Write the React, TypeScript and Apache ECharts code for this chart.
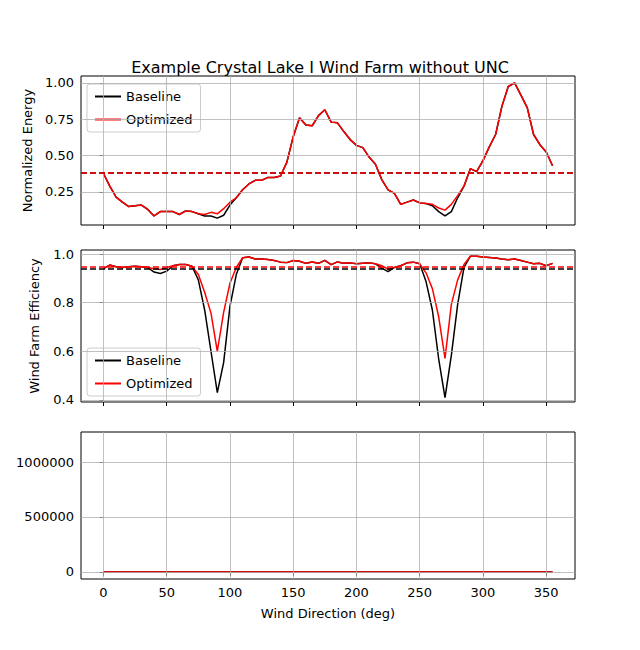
import React, { useEffect, useRef } from "react";
import * as echarts from "echarts";

const directions = [0,5,10,15,20,25,30,35,40,45,50,55,60,65,70,75,80,85,90,95,100,105,110,115,120,125,130,135,140,145,150,155,160,165,170,175,180,185,190,195,200,205,210,215,220,225,230,235,240,245,250,255,260,265,270,275,280,285,290,295,300,305,310,315,320,325,330,335,340,345,350,355];

const energyOpt = [0.377,0.29,0.215,0.18,0.15,0.155,0.16,0.13,0.085,0.115,0.115,0.115,0.095,0.12,0.115,0.1,0.095,0.11,0.1,0.135,0.18,0.21,0.265,0.305,0.33,0.33,0.35,0.35,0.36,0.455,0.63,0.76,0.71,0.705,0.775,0.815,0.73,0.725,0.665,0.61,0.57,0.555,0.49,0.44,0.335,0.265,0.24,0.165,0.18,0.195,0.175,0.17,0.165,0.14,0.125,0.165,0.225,0.29,0.41,0.39,0.465,0.56,0.645,0.84,0.975,1.0,0.915,0.83,0.645,0.575,0.525,0.43];
const energyBase = [0.377,0.29,0.215,0.18,0.15,0.155,0.16,0.13,0.085,0.115,0.115,0.115,0.095,0.12,0.115,0.1,0.085,0.085,0.07,0.09,0.16,0.21,0.265,0.305,0.33,0.33,0.35,0.35,0.36,0.455,0.63,0.76,0.71,0.705,0.775,0.815,0.73,0.725,0.665,0.61,0.57,0.555,0.49,0.44,0.335,0.265,0.24,0.165,0.18,0.195,0.175,0.17,0.155,0.115,0.085,0.115,0.21,0.29,0.41,0.39,0.465,0.56,0.645,0.84,0.975,1.0,0.915,0.83,0.645,0.575,0.525,0.43];

const effOpt = [0.94,0.955,0.948,0.945,0.948,0.95,0.948,0.945,0.94,0.937,0.945,0.952,0.957,0.957,0.95,0.916,0.843,0.757,0.6,0.76,0.88,0.945,0.985,0.988,0.98,0.98,0.978,0.974,0.967,0.965,0.974,0.971,0.962,0.968,0.962,0.974,0.957,0.968,0.962,0.964,0.96,0.962,0.964,0.96,0.952,0.938,0.945,0.952,0.964,0.967,0.96,0.923,0.858,0.742,0.571,0.793,0.894,0.957,0.991,0.991,0.988,0.986,0.984,0.98,0.977,0.98,0.974,0.967,0.96,0.962,0.952,0.962];
const effBase = [0.94,0.955,0.948,0.945,0.948,0.95,0.948,0.945,0.926,0.92,0.93,0.952,0.957,0.957,0.95,0.894,0.77,0.6,0.43,0.553,0.785,0.916,0.985,0.988,0.98,0.98,0.978,0.974,0.967,0.965,0.974,0.971,0.962,0.968,0.962,0.974,0.957,0.968,0.962,0.964,0.96,0.962,0.964,0.96,0.942,0.928,0.945,0.952,0.964,0.967,0.96,0.887,0.77,0.568,0.409,0.583,0.793,0.945,0.991,0.991,0.988,0.986,0.984,0.98,0.977,0.98,0.974,0.967,0.96,0.962,0.952,0.962];

const thirdOpt = directions.map(() => 0);
const thirdBase = directions.map(() => 0);

const energyMeanBase = 0.38;
const energyMeanOpt = 0.38;
const effMeanBase = 0.939;
const effMeanOpt = 0.954;

const xTicks = [0, 50, 100, 150, 200, 250, 300, 350];
const yTicksTop = [0.25, 0.5, 0.75, 1.0];
const yTicksMid = [0.4, 0.6, 0.8, 1.0];
const yTicksBot = [0, 500000, 1000000];

const FONT = "DejaVu Sans";

export default function App() {
  const ref = useRef<HTMLDivElement>(null);
  useEffect(() => {
    const chart = echarts.init(ref.current!, null, { renderer: "svg" });
    const grids = [
      { left: 81, width: 494, top: 76, height: 149 },
      { left: 81, width: 494, top: 250, height: 152 },
      { left: 81, width: 494, top: 432, height: 147 },
    ].map((g) => ({ ...g, show: true, borderColor: "#000", borderWidth: 1, containLabel: false }));

    const yTickSets = [yTicksTop, yTicksMid, yTicksBot];
    const yFmt = [
      (v: number) => v.toFixed(2),
      (v: number) => v.toFixed(1),
      (v: number) => String(v),
    ];
    const yRanges = [
      [0.023, 1.047],
      [0.391, 1.017],
      [-64000, 1273000],
    ];
    const yNames = ["Normalized Energy", "Wind Farm Efficiency", ""];
    const yGaps = [47, 40, 0];
    const meansBase = [energyMeanBase, effMeanBase];
    const meansOpt = [energyMeanOpt, effMeanOpt];

    const xAxes = [0, 1, 2].map((i) => ({
      type: "value",
      gridIndex: i,
      min: -17.75,
      max: 372.75,
      axisLine: { show: false },
      splitLine: { show: false },
      axisTick: { show: true, length: 4, lineStyle: { color: "#000" }, customValues: xTicks },
      axisLabel: {
        show: i === 2,
        customValues: xTicks,
        color: "#000",
        fontFamily: FONT,
        fontSize: 13,
        margin: 7,
      },
      name: i === 2 ? "Wind Direction (deg)" : "",
      nameLocation: "middle",
      nameGap: 28,
      nameTextStyle: { color: "#000", fontFamily: FONT, fontSize: 13 },
    }));

    const yAxes = [0, 1, 2].map((i) => ({
      type: "value",
      gridIndex: i,
      min: yRanges[i][0],
      max: yRanges[i][1],
      axisLine: { show: false },
      splitLine: { show: false },
      axisTick: { show: true, length: 4, lineStyle: { color: "#000" }, customValues: yTickSets[i] },
      axisLabel: {
        customValues: yTickSets[i],
        formatter: yFmt[i],
        color: "#000",
        fontFamily: FONT,
        fontSize: 13,
        margin: 7,
      },
      name: yNames[i],
      nameLocation: "middle",
      nameRotate: 90,
      nameGap: yGaps[i],
      nameTextStyle: { color: "#000", fontFamily: FONT, fontSize: 13 },
    }));

    const pairs = (xs: number[], ys: number[]) => xs.map((x, k) => [x, ys[k]]);
    const baseSets = [energyBase, effBase, thirdBase];
    const optSets = [energyOpt, effOpt, thirdOpt];
    const series: any[] = [];
    for (let i = 0; i < 3; i++) {
      series.push({
        type: "line",
        name: "grid" + i,
        xAxisIndex: i,
        yAxisIndex: i,
        data: pairs(directions, baseSets[i]),
        showSymbol: false,
        lineStyle: { opacity: 0 },
        silent: true,
        z: 1,
        markLine: {
          silent: true,
          symbol: "none",
          label: { show: false },
          lineStyle: { color: "#b0b0b0", width: 0.8, type: "solid" },
          data: [
            ...xTicks.map((v) => ({ xAxis: v })),
            ...yTickSets[i].map((v) => ({ yAxis: v })),
          ],
        },
      });
      const withMean = i < 2;
      series.push({
        type: "line",
        name: "Baseline",
        xAxisIndex: i,
        yAxisIndex: i,
        data: pairs(directions, baseSets[i]),
        showSymbol: false,
        lineStyle: { color: "#000", width: 1.5 },
        itemStyle: { color: "#000" },
        emphasis: { disabled: true },
        z: 3,
        markLine: withMean
          ? {
              silent: true,
              symbol: "none",
              label: { show: false },
              lineStyle: { color: "#000", width: 1.5, type: [6, 3] },
              data: [{ yAxis: meansBase[i] }],
            }
          : undefined,
      });
      series.push({
        type: "line",
        name: "Optimized",
        xAxisIndex: i,
        yAxisIndex: i,
        data: pairs(directions, optSets[i]),
        showSymbol: false,
        lineStyle: { color: "#ff0000", width: 1.5 },
        itemStyle: { color: "#ff0000" },
        emphasis: { disabled: true },
        z: 4,
        markLine: withMean
          ? {
              silent: true,
              symbol: "none",
              label: { show: false },
              lineStyle: { color: "#ff0000", width: 1.5, type: [6, 3] },
              data: [{ yAxis: meansOpt[i] }],
            }
          : undefined,
      });
    }

    const legendBase = {
      data: ["Baseline", "Optimized"],
      orient: "vertical",
      icon: "rect",
      itemWidth: 26,
      itemHeight: 2,
      itemGap: 10,
      textStyle: { color: "#000", fontFamily: FONT, fontSize: 13 },
      backgroundColor: "rgba(255,255,255,0.8)",
      borderColor: "#cccccc",
      borderWidth: 1,
      borderRadius: 3,
      padding: [6, 8, 6, 8],
      selectedMode: false,
    };

    chart.setOption({
      animation: false,
      title: {
        text: "Example Crystal Lake I Wind Farm without UNC",
        left: "center",
        top: 54,
        textStyle: { color: "#000", fontFamily: FONT, fontSize: 16, fontWeight: "normal" },
      },
      legend: [
        { ...legendBase, left: 87, top: 84 },
        { ...legendBase, left: 87, top: 348 },
      ],
      grid: grids,
      xAxis: xAxes,
      yAxis: yAxes,
      series,
    });
    return () => chart.dispose();
  }, []);
  return (
    <div
      ref={ref}
      style={{ position: "fixed", left: 0, top: 0, width: 640, height: 650, background: "#fff" }}
    />
  );
}
